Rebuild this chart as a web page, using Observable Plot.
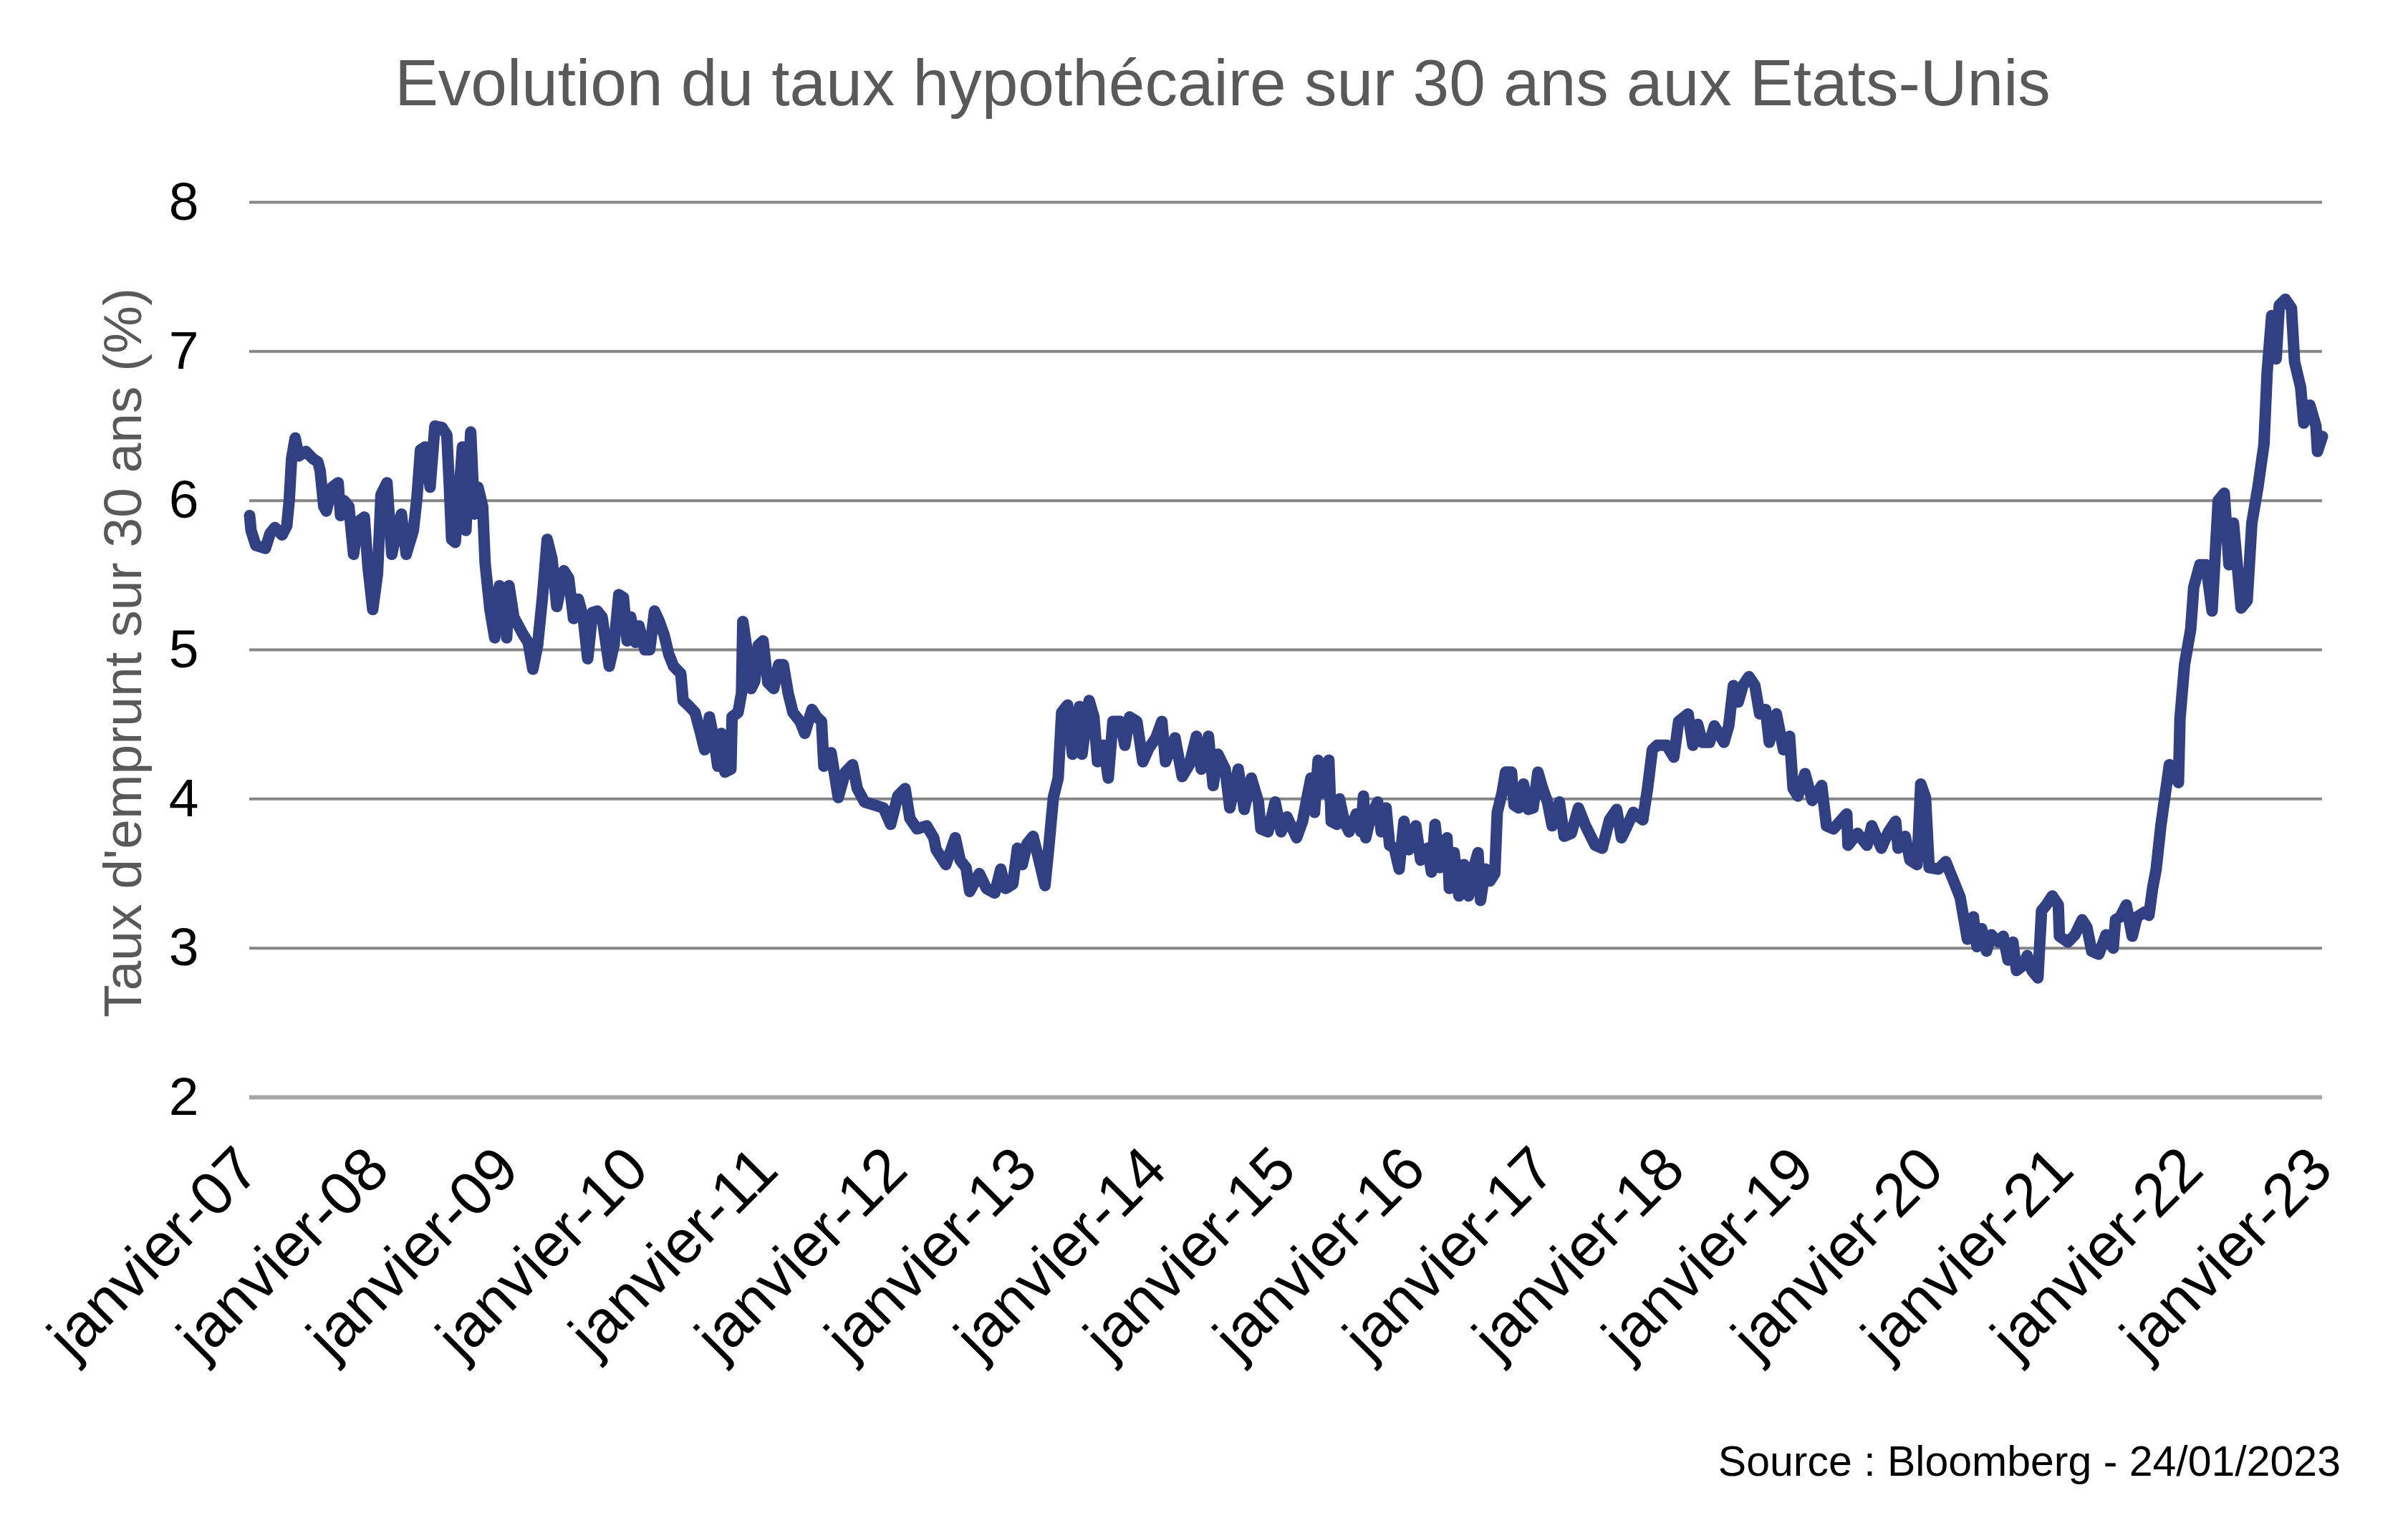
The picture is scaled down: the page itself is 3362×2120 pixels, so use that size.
<!DOCTYPE html>
<html>
<head>
<meta charset="utf-8">
<script src="https://cdn.jsdelivr.net/npm/d3@7"></script>
<script src="https://cdn.jsdelivr.net/npm/@observablehq/plot@0.6"></script>
<style>
  html, body { margin: 0; padding: 0; background: #ffffff; }
  body { width: 3362px; height: 2120px; position: relative; overflow: hidden; font-family: "Liberation Sans", Arial, sans-serif; }
  #title { position: absolute; left: 0; top: 70px; width: 3414px; text-align: center; font-size: 91px; line-height: 91px; color: #595959; white-space: nowrap; }
  #chart { position: absolute; left: 0; top: 180px; }
  #caption { position: absolute; right: 94px; top: 2012px; font-size: 59px; line-height: 59px; color: #000000; white-space: nowrap; }
</style>
</head>
<body>
<div id="title"></div>
<div id="chart"></div>
<div id="caption"></div>
<script>
const titleText = "Evolution du taux hypothécaire sur 30 ans aux Etats-Unis";
const captionText = "Source : Bloomberg - 24/01/2023";
const yLabelText = "Taux d'emprunt sur 30 ans (%)";
const monthLabel = "janvier";

// y-axis ticks
const yTicks = [2, 3, 4, 5, 6, 7, 8];
// x-axis ticks (January of each year)
const tickYears = [2007, 2008, 2009, 2010, 2011, 2012, 2013, 2014, 2015, 2016, 2017, 2018, 2019, 2020, 2021, 2022, 2023];

const years = [
  2007.000, 2007.011, 2007.048, 2007.122, 2007.158, 2007.195, 2007.251, 2007.287, 2007.306, 2007.324,
  2007.352, 2007.380, 2007.435, 2007.490, 2007.527, 2007.545, 2007.573, 2007.592, 2007.638, 2007.684,
  2007.702, 2007.730, 2007.767, 2007.803, 2007.840, 2007.886, 2007.914, 2007.951, 2007.988, 2008.015,
  2008.061, 2008.098, 2008.135, 2008.172, 2008.209, 2008.264, 2008.292, 2008.319, 2008.356, 2008.393,
  2008.430, 2008.485, 2008.522, 2008.540, 2008.559, 2008.587, 2008.614, 2008.642, 2008.669, 2008.706,
  2008.734, 2008.762, 2008.798, 2008.817, 2008.854, 2008.891, 2008.927, 2008.964, 2008.983, 2009.001,
  2009.038, 2009.075, 2009.112, 2009.149, 2009.185, 2009.222, 2009.259, 2009.296, 2009.333, 2009.370,
  2009.425, 2009.462, 2009.499, 2009.536, 2009.573, 2009.609, 2009.646,
  2009.683, 2009.720, 2009.775, 2009.812, 2009.849, 2009.885, 2009.913, 2009.941, 2009.978, 2010.005,
  2010.051, 2010.088, 2010.125, 2010.162, 2010.199, 2010.235, 2010.272, 2010.328, 2010.346, 2010.383,
  2010.438, 2010.475, 2010.512, 2010.549, 2010.586, 2010.613, 2010.641, 2010.669, 2010.715, 2010.724,
  2010.770, 2010.797, 2010.807, 2010.834, 2010.871, 2010.899, 2010.926, 2010.963, 2011.000, 2011.046,
  2011.083, 2011.120, 2011.157, 2011.194, 2011.249, 2011.286, 2011.341, 2011.378, 2011.415, 2011.433,
  2011.489, 2011.544, 2011.599, 2011.655, 2011.691, 2011.747, 2011.820, 2011.894, 2011.949, 2012.004,
  2012.060, 2012.097, 2012.152, 2012.226, 2012.281,
  2012.300, 2012.374, 2012.447, 2012.484, 2012.530, 2012.558, 2012.632, 2012.687, 2012.751, 2012.797,
  2012.834, 2012.890, 2012.926, 2012.963, 2013.000, 2013.046, 2013.092, 2013.138, 2013.166, 2013.203,
  2013.240, 2013.267, 2013.313, 2013.350, 2013.405, 2013.424, 2013.479, 2013.516, 2013.544, 2013.590,
  2013.627, 2013.663, 2013.719, 2013.755, 2013.792, 2013.848, 2013.894, 2013.940, 2013.995, 2014.041,
  2014.069, 2014.143, 2014.198, 2014.253, 2014.308, 2014.345, 2014.401, 2014.437, 2014.474, 2014.530,
  2014.566, 2014.631, 2014.677, 2014.732, 2014.787, 2014.806, 2014.861, 2014.916, 2014.962,
  2015.008, 2015.082, 2015.128, 2015.156, 2015.192, 2015.220, 2015.248, 2015.285, 2015.331, 2015.349,
  2015.395, 2015.413, 2015.450, 2015.487, 2015.543, 2015.579, 2015.598, 2015.616, 2015.653, 2015.708,
  2015.736, 2015.773, 2015.800, 2015.837, 2015.874, 2015.911, 2015.948, 2016.003, 2016.040, 2016.095,
  2016.123, 2016.151, 2016.187, 2016.243, 2016.261, 2016.298, 2016.335, 2016.372, 2016.409, 2016.445,
  2016.482, 2016.501, 2016.538, 2016.574, 2016.611, 2016.630, 2016.667, 2016.694, 2016.740, 2016.759,
  2016.796, 2016.832, 2016.869, 2016.906, 2016.943, 2016.980, 2017.017, 2017.053, 2017.109, 2017.146,
  2017.201, 2017.256, 2017.311, 2017.385, 2017.440, 2017.496, 2017.551, 2017.588,
  2017.606, 2017.680, 2017.753, 2017.790, 2017.827, 2017.864, 2017.938, 2017.993, 2018.030, 2018.103,
  2018.140, 2018.177, 2018.214, 2018.269, 2018.306, 2018.380, 2018.417, 2018.453, 2018.490, 2018.527,
  2018.573, 2018.619, 2018.656, 2018.702, 2018.730, 2018.785, 2018.840, 2018.887, 2018.914, 2018.951,
  2019.006, 2019.062, 2019.135, 2019.172, 2019.227, 2019.329, 2019.338, 2019.412, 2019.485, 2019.522,
  2019.596, 2019.651, 2019.706, 2019.725, 2019.780, 2019.817, 2019.872, 2019.900, 2019.937, 2019.965,
  2020.038, 2020.093, 2020.149, 2020.204,
  2020.260, 2020.306, 2020.334, 2020.370, 2020.407, 2020.444, 2020.499, 2020.536, 2020.573, 2020.610,
  2020.638, 2020.684, 2020.721, 2020.757, 2020.803, 2020.831, 2020.868, 2020.914, 2020.960, 2020.969,
  2021.034, 2021.089, 2021.144, 2021.181, 2021.218, 2021.273, 2021.329, 2021.384, 2021.402, 2021.439,
  2021.485, 2021.531, 2021.568, 2021.623, 2021.660, 2021.688, 2021.716, 2021.752,
  2021.818, 2021.888, 2021.900, 2021.935, 2021.983, 2022.006, 2022.053, 2022.101, 2022.148, 2022.195,
  2022.242, 2022.278, 2022.313, 2022.372, 2022.419, 2022.455, 2022.502, 2022.549, 2022.573, 2022.608,
  2022.643, 2022.667, 2022.714, 2022.761, 2022.785, 2022.832, 2022.856, 2022.903, 2022.950, 2022.962,
  2023.000
];

// 30-year mortgage rate (%)
const rates = [
  5.90, 5.80, 5.70, 5.68, 5.78, 5.82, 5.77, 5.83, 6.00, 6.28,
  6.42, 6.30, 6.33, 6.28, 6.26, 6.20, 5.96, 5.93, 6.09, 6.12,
  5.90, 6.00, 5.96, 5.64, 5.86, 5.89, 5.56, 5.27, 5.51, 6.04,
  6.12, 5.64, 5.80, 5.91, 5.64, 5.80, 6.02, 6.34, 6.36, 6.09,
  6.50, 6.49, 6.44, 6.12, 5.74, 5.72, 6.02, 6.36, 5.80, 6.46,
  5.91, 6.09, 5.96, 5.58, 5.27, 5.08, 5.43, 5.40, 5.08, 5.43,
  5.22, 5.16, 5.10, 5.05, 4.87, 5.03, 5.35, 5.74, 5.61, 5.29,
  5.53, 5.48, 5.21, 5.34, 5.22, 4.94, 5.25,
  5.26, 5.22, 4.89, 5.03, 5.37, 5.35, 5.06, 5.22, 5.05, 5.16,
  5.00, 5.00, 5.26, 5.19, 5.10, 4.97, 4.89, 4.84, 4.66, 4.63,
  4.58, 4.46, 4.33, 4.55, 4.39, 4.22, 4.44, 4.18, 4.20, 4.55,
  4.58, 4.71, 5.19, 5.03, 4.74, 4.79, 5.03, 5.06, 4.78, 4.74,
  4.90, 4.90, 4.71, 4.58, 4.52, 4.44, 4.60, 4.55, 4.52, 4.22,
  4.31, 4.01, 4.18, 4.23, 4.07, 3.98, 3.96, 3.94, 3.83, 4.02,
  4.07, 3.87, 3.80, 3.82, 3.74,
  3.66, 3.56, 3.74, 3.59, 3.54, 3.38, 3.50, 3.40, 3.37, 3.53,
  3.40, 3.43, 3.67, 3.56, 3.70, 3.75, 3.59, 3.42, 3.66, 4.01,
  4.14, 4.58, 4.63, 4.30, 4.62, 4.30, 4.66, 4.55, 4.25, 4.36,
  4.14, 4.52, 4.52, 4.36, 4.55, 4.52, 4.25, 4.34, 4.41, 4.52,
  4.25, 4.41, 4.15, 4.23, 4.42, 4.20, 4.42, 4.09, 4.30, 4.20,
  3.94, 4.20, 3.93, 4.14, 3.98, 3.80, 3.78, 3.98, 3.78,
  3.88, 3.74, 3.85, 3.98, 4.14, 3.91, 4.26, 4.04, 4.26, 3.85,
  3.83, 4.00, 3.85, 3.78, 3.90, 3.78, 4.02, 3.74, 3.88, 3.98,
  3.78, 3.94, 3.69, 3.67, 3.53, 3.85, 3.66, 3.82, 3.59, 3.67,
  3.51, 3.83, 3.54, 3.74, 3.40, 3.64, 3.35, 3.56, 3.35, 3.53,
  3.64, 3.32, 3.53, 3.45, 3.50, 3.91, 4.04, 4.18, 4.18, 3.96,
  3.94, 4.10, 3.93, 3.94, 4.18, 4.07, 3.98, 3.82, 3.98, 3.75,
  3.77, 3.94, 3.82, 3.69, 3.67, 3.86, 3.93, 3.74,
  3.77, 3.91, 3.86, 4.07, 4.33, 4.36, 4.36, 4.28, 4.52, 4.57,
  4.36, 4.50, 4.38, 4.38, 4.49, 4.38, 4.49, 4.76, 4.65, 4.76,
  4.82, 4.76, 4.57, 4.60, 4.38, 4.57, 4.33, 4.42, 4.07, 4.02,
  4.17, 3.99, 4.09, 3.82, 3.80, 3.90, 3.69, 3.77, 3.69, 3.82,
  3.67, 3.78, 3.85, 3.67, 3.75, 3.59, 3.56, 4.10, 4.01, 3.54,
  3.53, 3.58, 3.46, 3.34,
  3.06, 3.21, 3.01, 3.13, 2.98, 3.09, 3.04, 3.08, 2.92, 3.04,
  2.85, 2.88, 2.95, 2.85, 2.80, 3.25, 3.29, 3.35, 3.29, 3.08,
  3.04, 3.09, 3.19, 3.14, 2.98, 2.96, 3.09, 3.00, 3.19, 3.21,
  3.29, 3.08, 3.21, 3.24, 3.22, 3.40, 3.53, 3.82,
  4.23, 4.11, 4.54, 4.90, 5.14, 5.42, 5.57, 5.57, 5.26, 6.00,
  6.05, 5.57, 5.85, 5.28, 5.33, 5.85, 6.09, 6.38, 6.86, 7.24,
  6.95, 7.31, 7.35, 7.29, 6.93, 6.76, 6.52, 6.64, 6.50, 6.33,
  6.43
];

const toDate = (t) => {
  const y = Math.floor(t);
  const start = Date.UTC(y, 0, 1);
  const end = Date.UTC(y + 1, 0, 1);
  return new Date(start + (t - y) * (end - start));
};

const data = years.map((t, i) => ({date: toDate(t), rate: rates[i]}));
const xTicks = tickYears.map((y) => new Date(Date.UTC(y, 0, 1)));
const yy = d3.utcFormat("%y");

document.getElementById("title").textContent = titleText;
document.getElementById("caption").textContent = captionText;

const chart = Plot.plot({
  width: 3362,
  height: 1760,
  marginTop: 102,
  marginBottom: 408,
  marginLeft: 348,
  marginRight: 120,
  style: {fontFamily: "'Liberation Sans', Arial, sans-serif", fontSize: "75px", color: "#000000", background: "#ffffff", overflow: "visible"},
  x: {type: "utc", domain: [xTicks[0], xTicks[xTicks.length - 1]]},
  y: {domain: [2, 8]},
  marks: [
    Plot.gridY(yTicks.filter((v) => v > 2), {stroke: "#868686", strokeOpacity: 1, strokeWidth: 4}),
    Plot.ruleY([2], {stroke: "#a6a6a6", strokeWidth: 6}),
    Plot.axisY({ticks: yTicks, tickSize: 0, tickPadding: 71, fontSize: 75, label: null, tickFormat: (d) => String(d)}),
    Plot.axisX({ticks: [], label: null}),
    Plot.text(xTicks, {x: (d) => d, frameAnchor: "bottom", text: (d) => `${monthLabel}-${yy(d)}`,
      rotate: -45, textAnchor: "end", lineAnchor: "bottom", dx: 18, dy: 105, fontSize: 85, fill: "#000000"}),
    Plot.line(data, {x: "date", y: "rate", stroke: "#314083", strokeWidth: 16, strokeLinejoin: "round", strokeLinecap: "round"}),
    Plot.text([yLabelText], {frameAnchor: "left", dx: -176, dy: 4, rotate: -90, fill: "#595959", fontSize: 75, textAnchor: "middle", lineAnchor: "middle"})
  ]
});
document.getElementById("chart").appendChild(chart);
</script>
</body>
</html>
